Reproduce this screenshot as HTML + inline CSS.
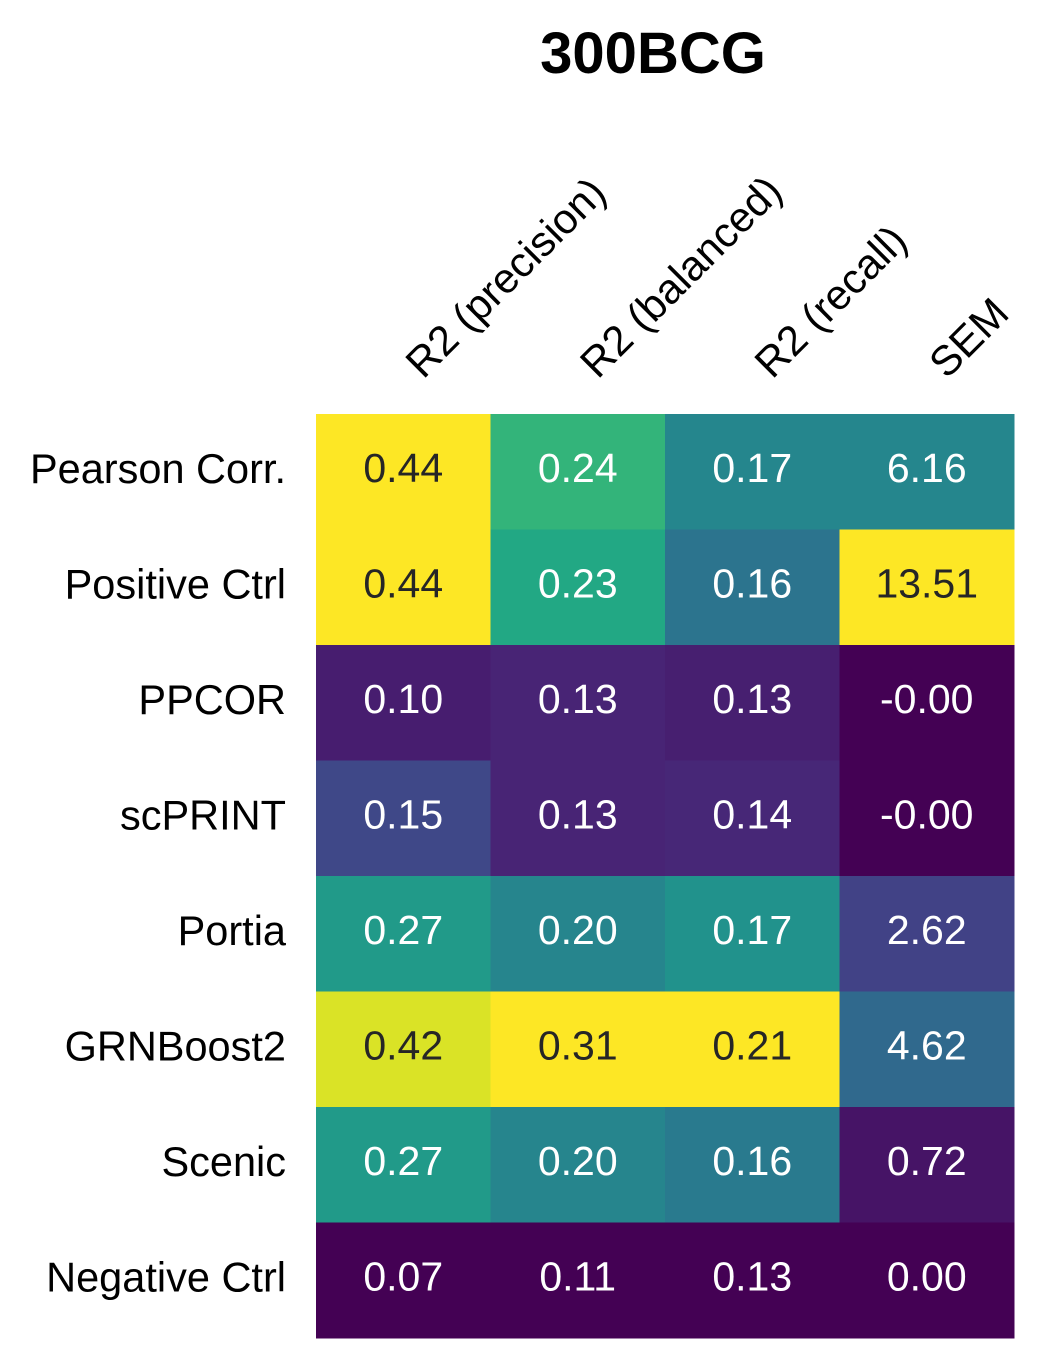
<!DOCTYPE html>
<html><head><meta charset="utf-8"><style>
body{margin:0;background:#fff;}
svg{display:block;font-family:"Liberation Sans",Arial,sans-serif;}
</style></head><body>
<svg id="chart" width="1048" height="1368" viewBox="0 0 1048 1368" xmlns="http://www.w3.org/2000/svg">
<text x="653" y="73" text-anchor="middle" font-size="58" font-weight="bold">300BCG</text>
<g id="cells"></g>
<g id="labels"></g>
</svg>
<script>
const rows = ["Pearson Corr.","Positive Ctrl","PPCOR","scPRINT","Portia","GRNBoost2","Scenic","Negative Ctrl"];
const cols = ["R2 (precision)","R2 (balanced)","R2 (recall)","SEM"];
const precision = [0.44,0.44,0.10,0.15,0.27,0.42,0.27,0.07];
const balanced = [0.24,0.23,0.13,0.13,0.20,0.31,0.20,0.11];
const recall = [0.165,0.159,0.134,0.136,0.169,0.21,0.161,0.127];
const sem = [6.16,13.51,-0.00,-0.00,2.62,4.62,0.72,0.00];
const series = [precision,balanced,recall,sem];

const X0=316, X1=1014, Y0=414, Y1=1338;
const cw=(X1-X0)/cols.length, rh=(Y1-Y0)/rows.length;
const xOf=c=>X0+c*cw, yOf=r=>Y0+r*rh;
const stops=["#440154","#482475","#414487","#355f8d","#2a788e","#21918c","#22a884","#44bf70","#7ad151","#bddf26","#fde725"].map(h=>[1,3,5].map(i=>parseInt(h.substr(i,2),16)));
function viridis(t){t=Math.max(0,Math.min(1,t));const p=t*10,i=Math.min(9,Math.floor(p)),f=p-i;return stops[i].map((v,k)=>v+(stops[i+1][k]-v)*f);}
function lum(c){const l=c.map(v=>{v/=255;return v<=0.03928?v/12.92:Math.pow((v+0.055)/1.055,2.4);});return 0.2126*l[0]+0.7152*l[1]+0.0722*l[2];}
const NS="http://www.w3.org/2000/svg";
const cg=document.getElementById('cells'), lg=document.getElementById('labels');
series.forEach((vals,c)=>{
  const mn=Math.min(...vals), mx=Math.max(...vals);
  vals.forEach((v,r)=>{
    const col=viridis((v-mn)/(mx-mn));
    const rect=document.createElementNS(NS,'rect');
    rect.setAttribute('x',xOf(c));rect.setAttribute('y',yOf(r));
    rect.setAttribute('width',cw+0.5);rect.setAttribute('height',rh+0.5);
    rect.setAttribute('fill','rgb('+col.map(Math.round).join(',')+')');
    
    
    cg.appendChild(rect);
    const t=document.createElementNS(NS,'text');
    t.setAttribute('x',xOf(c)+cw/2);t.setAttribute('y',yOf(r)+rh/2+10);
    t.setAttribute('text-anchor','middle');t.setAttribute('font-size','41');
    t.setAttribute('fill',lum(col)>0.408?'#262626':'#ffffff');
    let s=v.toFixed(2); if(Object.is(v,-0))s="-0.00";
    t.textContent=s;
    
    
    cg.appendChild(t);
  });
});
rows.forEach((name,r)=>{
  const t=document.createElementNS(NS,'text');
  t.setAttribute('x',286);t.setAttribute('y',yOf(r)+rh/2+11);
  t.setAttribute('text-anchor','end');t.setAttribute('font-size','41.5');
  t.textContent=name;
  
  
  lg.appendChild(t);
});
cols.forEach((name,c)=>{
  const x=xOf(c)+cw/2+20, y=380;
  const t=document.createElementNS(NS,'text');
  t.setAttribute('x',x);t.setAttribute('y',y);
  t.setAttribute('transform','rotate(-45 '+x+' '+y+')');
  t.setAttribute('font-size','42');
  t.textContent=name;
  
  
  lg.appendChild(t);
});
</script>
</body></html>
